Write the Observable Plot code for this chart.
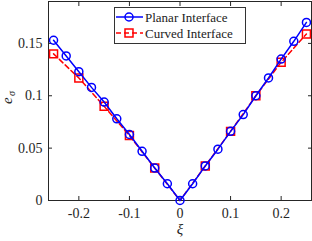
<!DOCTYPE html>
<html><head><meta charset="utf-8">
<script src="https://cdn.jsdelivr.net/npm/d3@7"></script>
<script src="https://cdn.jsdelivr.net/npm/@observablehq/plot@0.6"></script>
<style>
body{margin:0;background:#fff;}
#wrap{position:relative;width:312px;height:241px;}
#legend{position:absolute;left:114px;top:7px;width:130px;height:35px;border:1px solid #333;background:#fff;}
.row{position:absolute;left:0;height:16px;}
</style>
</head><body>
<div id="wrap"><div id="chart"></div>
<div id="legend">
<div class="row" style="top:1px"><svg width="130" height="16"><line x1="1" x2="28" y1="8" y2="8" stroke="#0000ff" stroke-width="1.5"/><circle cx="14" cy="8" r="4" fill="none" stroke="#0000ff" stroke-width="1.5"/><text x="30" y="12.5" font-family="Liberation Serif" font-size="13" fill="#222" style="font-family:'Liberation Serif',serif">Planar Interface</text></svg></div>
<div class="row" style="top:17px"><svg width="130" height="16"><line x1="1" x2="28" y1="8" y2="8" stroke="#ff0000" stroke-width="1.5" stroke-dasharray="5,3"/><rect x="10" y="4" width="8" height="8" fill="none" stroke="#ff0000" stroke-width="1.5"/><text x="30" y="12.5" font-family="Liberation Serif" font-size="13" fill="#222" style="font-family:'Liberation Serif',serif">Curved Interface</text></svg></div>
</div></div>
<script>
const xiPlanar = [-0.25,-0.225,-0.2,-0.175,-0.15,-0.125,-0.1,-0.075,-0.05,-0.025,0,0.025,0.05,0.075,0.1,0.125,0.15,0.175,0.2,0.225,0.25];
const ePlanar = [0.153,0.138,0.123,0.108,0.094,0.078,0.063,0.047,0.031,0.016,0,0.016,0.033,0.049,0.066,0.082,0.100,0.117,0.135,0.152,0.170];
const xiCurved = [-0.25,-0.2,-0.15,-0.1,-0.05,0,0.05,0.1,0.15,0.2,0.25];
const eCurved = [0.140,0.117,0.090,0.062,0.031,0,0.033,0.066,0.100,0.132,0.159];
const curvedMarked = [true,true,true,true,true,false,true,true,true,true,true];
const xTicks = [-0.2,-0.1,0,0.1,0.2];
const yTicks = [0,0.05,0.1,0.15];
const xTickLabels = ["-0.2","-0.1","0","0.1","0.2"];
const yTickLabels = ["0","0.05","0.1","0.15"];

const planar = xiPlanar.map((x,i)=>({x, y:ePlanar[i]}));
const curved = xiCurved.map((x,i)=>({x, y:eCurved[i], m:curvedMarked[i]}));
const fmtX = d => xTickLabels[xTicks.indexOf(d)];
const fmtY = d => yTickLabels[yTicks.indexOf(d)];

const chart = Plot.plot({
  width: 312, height: 241,
  marginLeft: 48, marginRight: 1, marginTop: 1, marginBottom: 41,
  style: {fontFamily: "Liberation Serif, serif", fontSize: "14px", color: "#262626", background: "#fff"},
  x: {domain: [-0.26, 0.26]},
  y: {domain: [0, 0.19]},
  marks: [
    Plot.frame({stroke: "#262626", strokeWidth: 1}),
    Plot.axisX(xTicks, {anchor: "bottom", tickSize: -4, tickPadding: 12, tickFormat: fmtX, label: null, stroke: "#262626", fill: "#262626"}),
    Plot.axisX(xTicks, {anchor: "top", tickSize: -4, tickFormat: () => "", label: null, stroke: "#262626"}),
    Plot.axisY(yTicks, {anchor: "left", tickSize: -4, tickPadding: 10, tickFormat: fmtY, label: null, stroke: "#262626", fill: "#262626"}),
    Plot.axisY(yTicks, {anchor: "right", tickSize: -4, tickFormat: () => "", label: null, stroke: "#262626"}),
    Plot.line(curved, {x: "x", y: "y", stroke: "#ff0000", strokeWidth: 1.5, strokeDasharray: "5,3"}),
    Plot.dot(curved.filter(d => d.m), {x: "x", y: "y", symbol: "square", r: 4.5, stroke: "#ff0000", strokeWidth: 1.5, fill: "none"}),
    Plot.line(planar, {x: "x", y: "y", stroke: "#0000ff", strokeWidth: 1.5}),
    Plot.dot(planar, {x: "x", y: "y", r: 4, stroke: "#0000ff", strokeWidth: 1.5, fill: "none"}),
    Plot.text(["ξ"], {frameAnchor: "bottom", dy: 33, fontStyle: "italic", fontSize: 15, fill: "#262626"}),
    Plot.text(["e"], {frameAnchor: "left", dx: -41, dy: 3, rotate: -90, fontStyle: "italic", fontSize: 15, fill: "#262626"}),
    Plot.text(["σ"], {frameAnchor: "left", dx: -37, dy: -5, rotate: -90, fontStyle: "italic", fontSize: 10, fill: "#262626"})
  ]
});
document.getElementById("chart").appendChild(chart);
</script>
</body></html>
